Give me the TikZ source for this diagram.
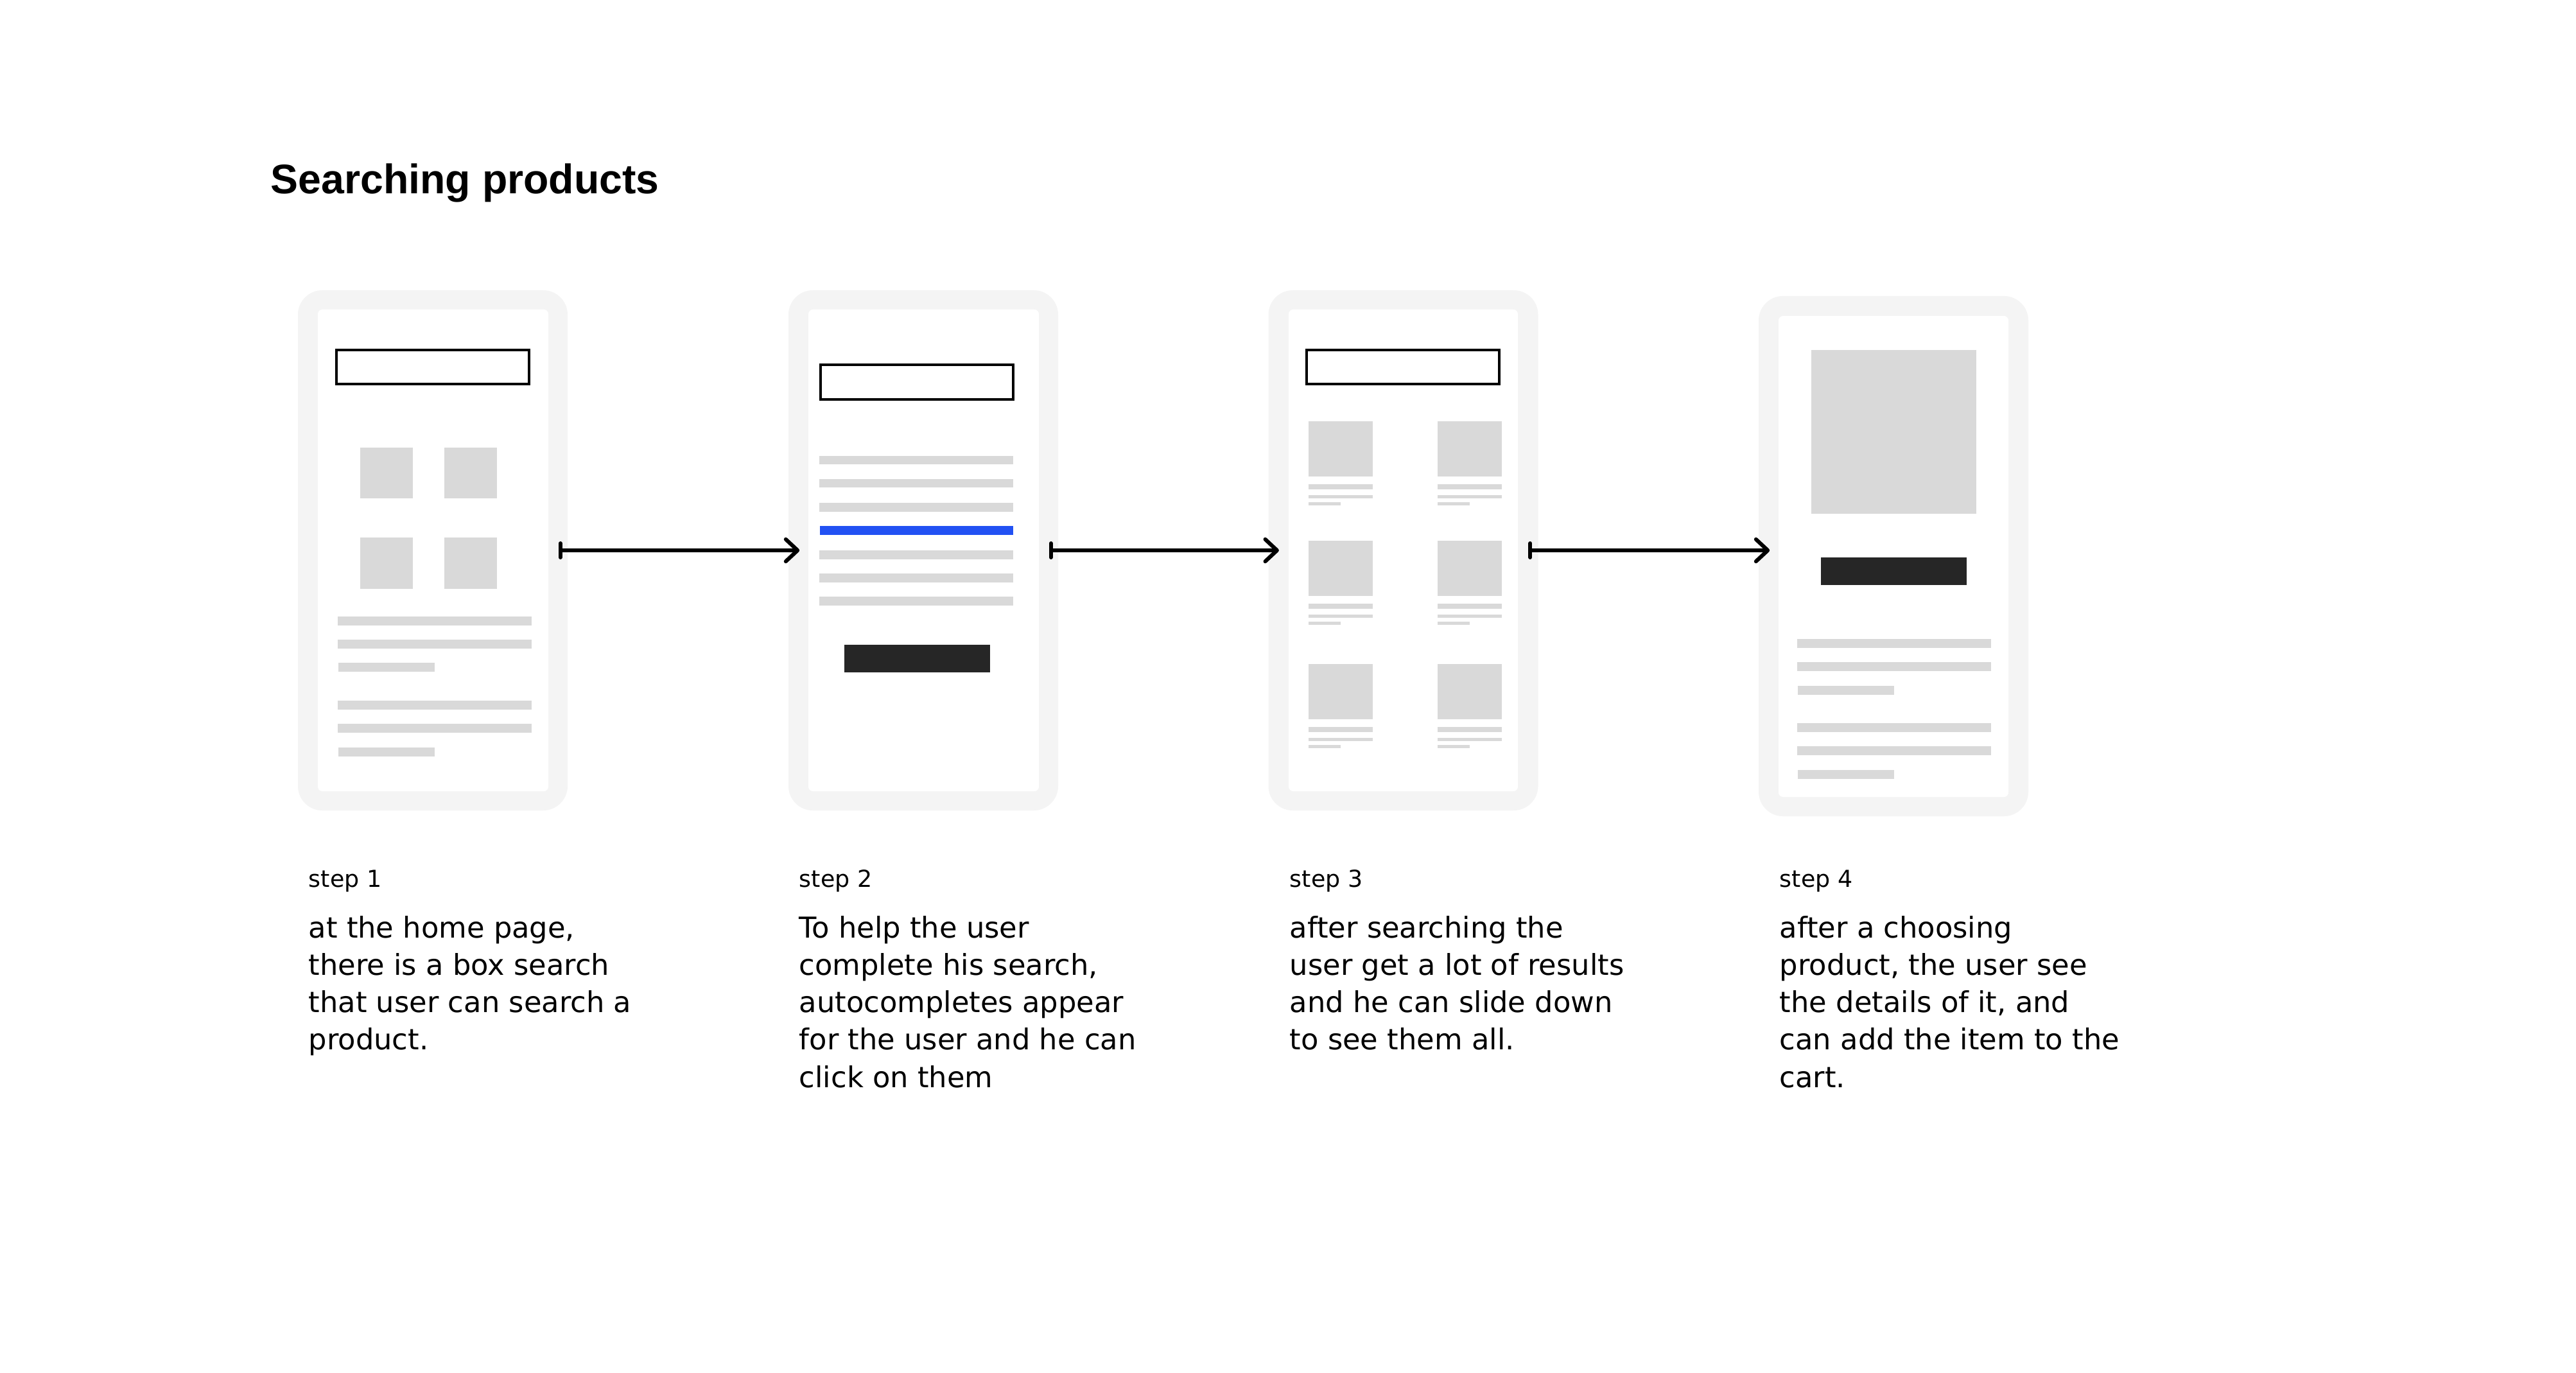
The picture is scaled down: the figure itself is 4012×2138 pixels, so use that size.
\documentclass[tikz,border=0pt]{standalone}
\usepackage{fontspec}
\setmainfont{DejaVu Sans}
\newfontfamily\titlefont{Liberation Sans}
\usetikzlibrary{arrows.meta}

\definecolor{framegray}{HTML}{F4F4F4}
\definecolor{placeholder}{HTML}{D9D9D9}
\definecolor{darkbtn}{HTML}{262626}
\definecolor{accentblue}{HTML}{2251F3}

% left-aligned lines whose baseline is that of the first line
\newcommand\stacklines[1]{\vtop{\baselineskip=14.58pt\lineskiplimit=-10pt\halign{##\hfil\cr#1\crcr}}}

\tikzset{
  phone/.style={rectangle, rounded corners=9.5pt, fill=framegray, draw=none,
    minimum width=105pt, minimum height=202.5pt, inner sep=0pt},
  screen/.style={fill=white, rounded corners=1.75pt},
  ph/.style={fill=placeholder},
  sbox/.style={draw=black, line width=1pt, fill=white},
  btn/.style={fill=darkbtn},
  flow/.style={line width=1.5pt, line cap=round,
    arrows={Bar[width=5.5pt,round]-Straight Barb[length=4.6pt,width=8.6pt,round]}},
  titletext/.style={anchor=base west, inner sep=0pt,
    font=\titlefont\bfseries\fontsize{16.1pt}{20pt}\selectfont},
  steplabel/.style={anchor=base west, inner sep=0pt,
    font=\fontsize{9.1pt}{11pt}\selectfont},
  bodytext/.style={anchor=base west, inner sep=0pt,
    font=\fontsize{11.2pt}{14.58pt}\selectfont},
}

\begin{document}
\begin{tikzpicture}[x=0.25pt, y=-0.25pt]
\useasboundingbox (0,0) rectangle (4012,2138);
\fill[white] (0,0) rectangle (4012,2138);

% heading
\node[titletext] (title) at (421,302) {Searching products};

% phone frames
\node[phone] (p1) at (674,857) {};
\node[phone] (p2) at (1438,857) {};
\node[phone] (p3) at (2185.5,857) {};
\node[phone] (p4) at (2949,866) {};

% screens
\fill[screen] (495,482) rectangle (854,1232);
\fill[screen] (1259,482) rectangle (1618,1232);
\fill[screen] (2007,482) rectangle (2364,1232);
\fill[screen] (2770,492) rectangle (3128,1241);

% --- screen 1: home page
\draw[sbox] (524,545) rectangle (824,598);
\fill[ph] (561,697) rectangle (643,776);
\fill[ph] (692,697) rectangle (774,776);
\fill[ph] (561,837) rectangle (643,917);
\fill[ph] (692,837) rectangle (774,917);
\foreach \y in {960,996,1091,1127}
  \fill[ph] (526,\y) rectangle (828,\y+13.5);
\foreach \y in {1032,1164}
  \fill[ph] (527,\y) rectangle (677,\y+13.5);

% --- screen 2: autocomplete
\draw[sbox] (1278,568) rectangle (1578,622);
\foreach \y in {710,746,783,857,893,929}
  \fill[ph] (1276,\y) rectangle (1578,\y+13.5);
\fill[accentblue] (1277,819) rectangle (1578,832.5);
\fill[btn] (1315,1004) rectangle (1542,1047);

% --- screen 3: result grid
\draw[sbox] (2035,545) rectangle (2335,598);
\foreach \x in {2038,2239}
  \foreach \y in {656,842,1034} {
    \fill[ph] (\x,\y) rectangle (\x+100,\y+86);
    \fill[ph] (\x,\y+98) rectangle (\x+100,\y+105.6);
    \fill[ph] (\x,\y+115) rectangle (\x+100,\y+120.4);
    \fill[ph] (\x,\y+125.8) rectangle (\x+50,\y+130.6);
  }

% --- screen 4: product detail
\fill[ph] (2821,545) rectangle (3078,800);
\fill[btn] (2836,868) rectangle (3063,911);
\foreach \y in {995,1031,1126,1162}
  \fill[ph] (2799,\y) rectangle (3101,\y+13.5);
\foreach \y in {1068,1199}
  \fill[ph] (2800,\y) rectangle (2950,\y+13.5);

% connectors
\path (p4.west |- p3.east) coordinate (p4in);
\draw[flow] ([xshift=-3.75pt]p1.east) -- ([xshift=4.5pt]p2.west);
\draw[flow] ([xshift=-3.75pt]p2.east) -- ([xshift=4.3pt]p3.west);
\draw[flow] ([xshift=-4pt]p3.east) -- ([xshift=4.5pt]p4in);

% captions
\node[steplabel] (l1) at (480,1381) {step 1};
\node[steplabel] (l2) at (1244,1381) {step 2};
\node[steplabel] (l3) at (2008,1381) {step 3};
\node[steplabel] (l4) at (2771,1381) {step 4};

\node[bodytext] (d1) at (480,1460) {\stacklines{at the home page,\cr
  there is a box search\cr that user can search a\cr product.}};
\node[bodytext] (d2) at (1244,1460) {\stacklines{To help the user\cr
  complete his search,\cr autocompletes appear\cr for the user and he can\cr click on them}};
\node[bodytext] (d3) at (2008,1460) {\stacklines{after searching the\cr
  user get a lot of results\cr and he can slide down\cr to see them all.}};
\node[bodytext] (d4) at (2771,1460) {\stacklines{after a choosing\cr
  product, the user see\cr the details of it, and\cr can add the item to the\cr cart.}};
\end{tikzpicture}
\end{document}
